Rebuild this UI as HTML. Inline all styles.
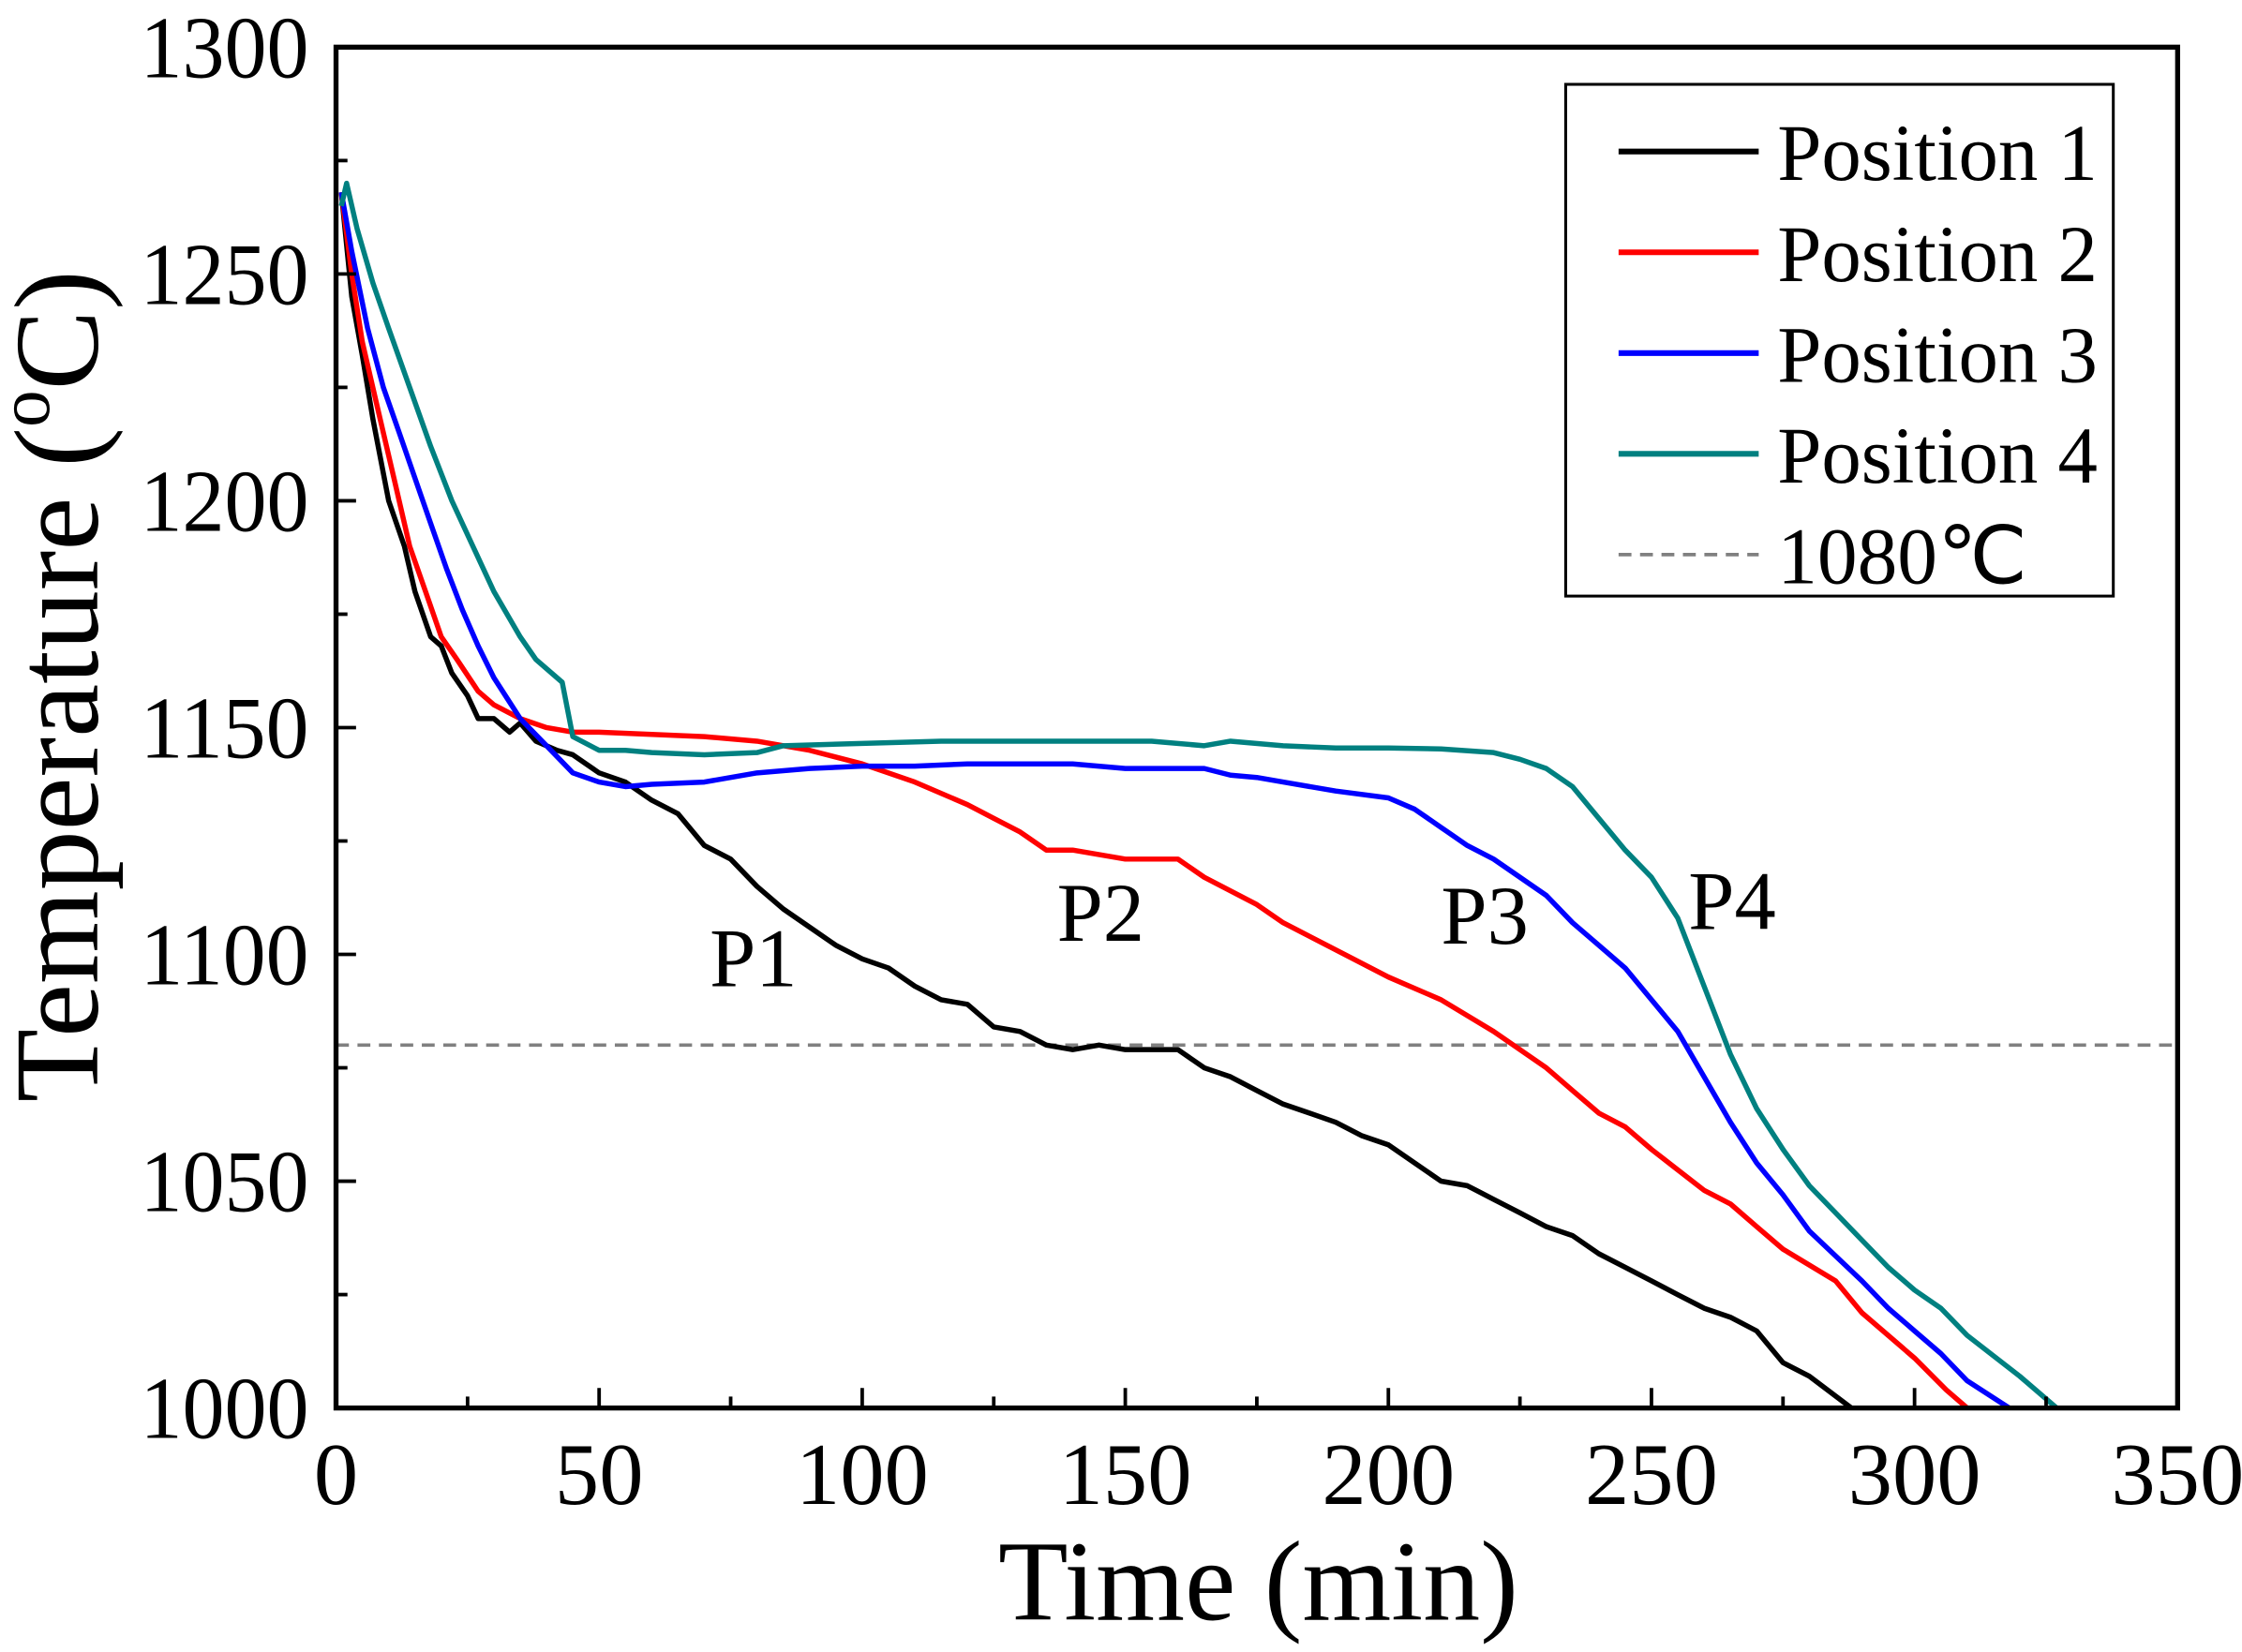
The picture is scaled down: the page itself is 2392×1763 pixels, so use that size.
<!DOCTYPE html>
<html><head><meta charset="utf-8"><style>
html,body{margin:0;padding:0;background:#fff;}
svg{display:block;font-family:"Liberation Serif",serif;}
</style></head><body>
<svg id="chart" width="2392" height="1763" viewBox="0 0 1568 1155.7" xmlns="http://www.w3.org/2000/svg">
<g id="plot"></g>
</svg>
<script>
const xTicks=[0,50,100,150,200,250,300,350];
const yTicks=[1000,1050,1100,1150,1200,1250,1300];
const seriesNames=["Position 1","Position 2","Position 3","Position 4"];
const seriesColors=["#000000","#ff0000","#0000ff","#008080"];
const p1T=[1,3,5,7,10,13,15,18,20,22,25,27,30,33,35,38,42,45,50,55,60,65,70,75,80,85,90,95,100,105,110,115,120,125,130,135,140,145,150,160,165,170,175,180,185,190,195,200,205,210,215,220,225,230,235,240,245,250,255,260,265,270,275,280,288];
const p1V=[1268,1245,1232,1218,1200,1190,1180,1170,1168,1162,1157,1152,1152,1149,1151,1147,1145,1144,1140,1138,1134,1131,1124,1121,1115,1110,1106,1102,1099,1097,1093,1090,1089,1084,1083,1080,1079,1080,1079,1079,1075,1073,1070,1067,1065,1063,1060,1058,1054,1050,1049,1046,1043,1040,1038,1034,1031,1028,1025,1022,1020,1017,1010,1007,1000];
const p2T=[1,3,5,8,11,14,17,20,23,27,30,35,40,45,50,60,70,80,90,100,110,120,125,130,135,140,150,160,165,175,180,190,200,210,220,230,235,240,245,250,260,265,270,275,285,290,300,306,310];
const p2V=[1268,1250,1235,1220,1205,1190,1180,1170,1165,1158,1155,1152,1150,1149,1149,1148.5,1148,1147,1145,1142,1138,1133,1130,1127,1123,1123,1121,1121,1117,1111,1107,1101,1095,1090,1083,1075,1070,1065,1062,1057,1048,1045,1040,1035,1028,1021,1011,1004,1000];
const p3T=[1,3,6,9,12,15,18,21,24,27,30,35,40,45,50,55,60,70,80,90,100,110,120,140,150,165,170,175,180,190,200,205,210,215,220,225,230,235,240,245,250,255,260,265,270,275,280,290,295,300,305,310,318];
const p3V=[1268,1255,1238,1225,1215,1205,1195,1185,1176,1168,1161,1152,1146,1140,1138,1137,1137.5,1138,1140,1141,1141.5,1141.5,1142,1142,1141,1141,1139.5,1139,1138,1136,1134.5,1132,1128,1124,1121,1117,1113,1107,1102,1097,1090,1083,1073,1063,1054,1047,1039,1028,1022,1017,1012,1006,1000];
const p4T=[1,2,4,7,10,14,18,22,26,30,35,38,43,45,50,55,60,70,80,85,100,115,120,140,155,165,170,180,190,200,210,220,225,230,235,240,245,250,255,260,265,270,275,280,285,290,295,300,305,310,320,327];
const p4V=[1265,1270,1260,1248,1238,1225,1212,1200,1190,1180,1170,1165,1160,1148,1145,1145,1144.5,1144,1144.5,1146,1146.5,1147,1147,1147,1147,1146,1147,1146,1145.5,1145.5,1145.3,1144.5,1143,1141,1137,1130,1123,1117,1108,1093,1078,1066,1057,1049,1043,1037,1031,1026,1022,1016,1007,1000];
const refTemp=1080;
const annotations=[["P1",71,1093],["P2",137,1103],["P3",210,1102.4],["P4",257,1105.6]];

const L=235,R=1523,T=33,B=985;
const sx=v=>L+(v-0)/(350-0)*(R-L);
const sy=v=>B-(v-1000)/(1300-1000)*(B-T);
const NS="http://www.w3.org/2000/svg";
const g=document.getElementById('plot');
function mk(tag,attrs,parent){const e=document.createElementNS(NS,tag);for(const k in attrs)e.setAttribute(k,attrs[k]);(parent||g).appendChild(e);return e;}

const defs=mk('defs',{});
const cp=mk('clipPath',{id:'clip'},defs);
mk('rect',{x:L,y:T,width:R-L,height:B-T},cp);

const rl=mk('line',{x1:L,x2:R,y1:sy(refTemp),y2:sy(refTemp),stroke:'#808080','stroke-width':2.4,'stroke-dasharray':'9,6'});



const allT=[p1T,p2T,p3T,p4T],allV=[p1V,p2V,p3V,p4V];
for(let i=0;i<4;i++){
  const d=allT[i].map((t,j)=>(j?'L':'M')+sx(t).toFixed(1)+','+sy(allV[i][j]).toFixed(1)).join(' ');
  const p=mk('path',{d:d,fill:'none',stroke:seriesColors[i],'stroke-width':3.6,'stroke-linejoin':'round','clip-path':'url(#clip)'});
  
  
}

const fr=mk('rect',{x:L,y:T,width:R-L,height:B-T,fill:'none',stroke:'#000','stroke-width':3.5});



for(let v=0;v<=350;v+=25){
  const major=v%50===0;
  mk('line',{x1:sx(v),x2:sx(v),y1:B,y2:B-(major?14:8),stroke:'#000','stroke-width':2.5});
}
xTicks.forEach(v=>{
  const t=mk('text',{x:sx(v),y:1052,'font-size':62,'text-anchor':'middle'});
  t.textContent=v;
  
  
});
for(let v=1000;v<=1300;v+=25){
  const major=v%50===0;
  mk('line',{x1:L,x2:L+(major?14:8),y1:sy(v),y2:sy(v),stroke:'#000','stroke-width':2.5});
}
yTicks.forEach(v=>{
  const t=mk('text',{x:216,y:sy(v)+21,'font-size':62,'text-anchor':'end',textLength:118,lengthAdjust:'spacingAndGlyphs'});
  t.textContent=v;
  
  
});

const xt=mk('text',{x:880,y:1133,'font-size':80,'text-anchor':'middle'});
xt.textContent='Time (min)';


const yt=mk('text',{transform:'translate(68,480) rotate(-90)','font-size':84,'text-anchor':'middle'});
yt.innerHTML='Temperature (<tspan font-size="52" dy="-34">o</tspan><tspan dy="34">C)</tspan>';



annotations.forEach(a=>{
  const t=mk('text',{x:sx(a[1]),y:sy(a[2]),'font-size':58});
  t.textContent=a[0];
  
  
});

const lg=mk('g',{});


mk('rect',{x:1095,y:59,width:383,height:358,fill:'#fff',stroke:'#000','stroke-width':2},lg);
const labels=seriesNames.concat(['1080\u2103']);
labels.forEach((lab,i)=>{
  const y=106+i*70.5;
  const e=mk('g',{},lg);
  
  
  const attrs={x1:1132,x2:1230,y1:y,y2:y,stroke:i<4?seriesColors[i]:'#808080','stroke-width':i<4?4:2.4};
  if(i===4)attrs['stroke-dasharray']='9,6';
  mk('line',attrs,e);
  const t=mk('text',{x:1243,y:y+20,'font-size':56},e);
  if(i<4){t.setAttribute('textLength',224);t.setAttribute('lengthAdjust','spacingAndGlyphs');}
  t.textContent=lab;
});
</script>
</body></html>
